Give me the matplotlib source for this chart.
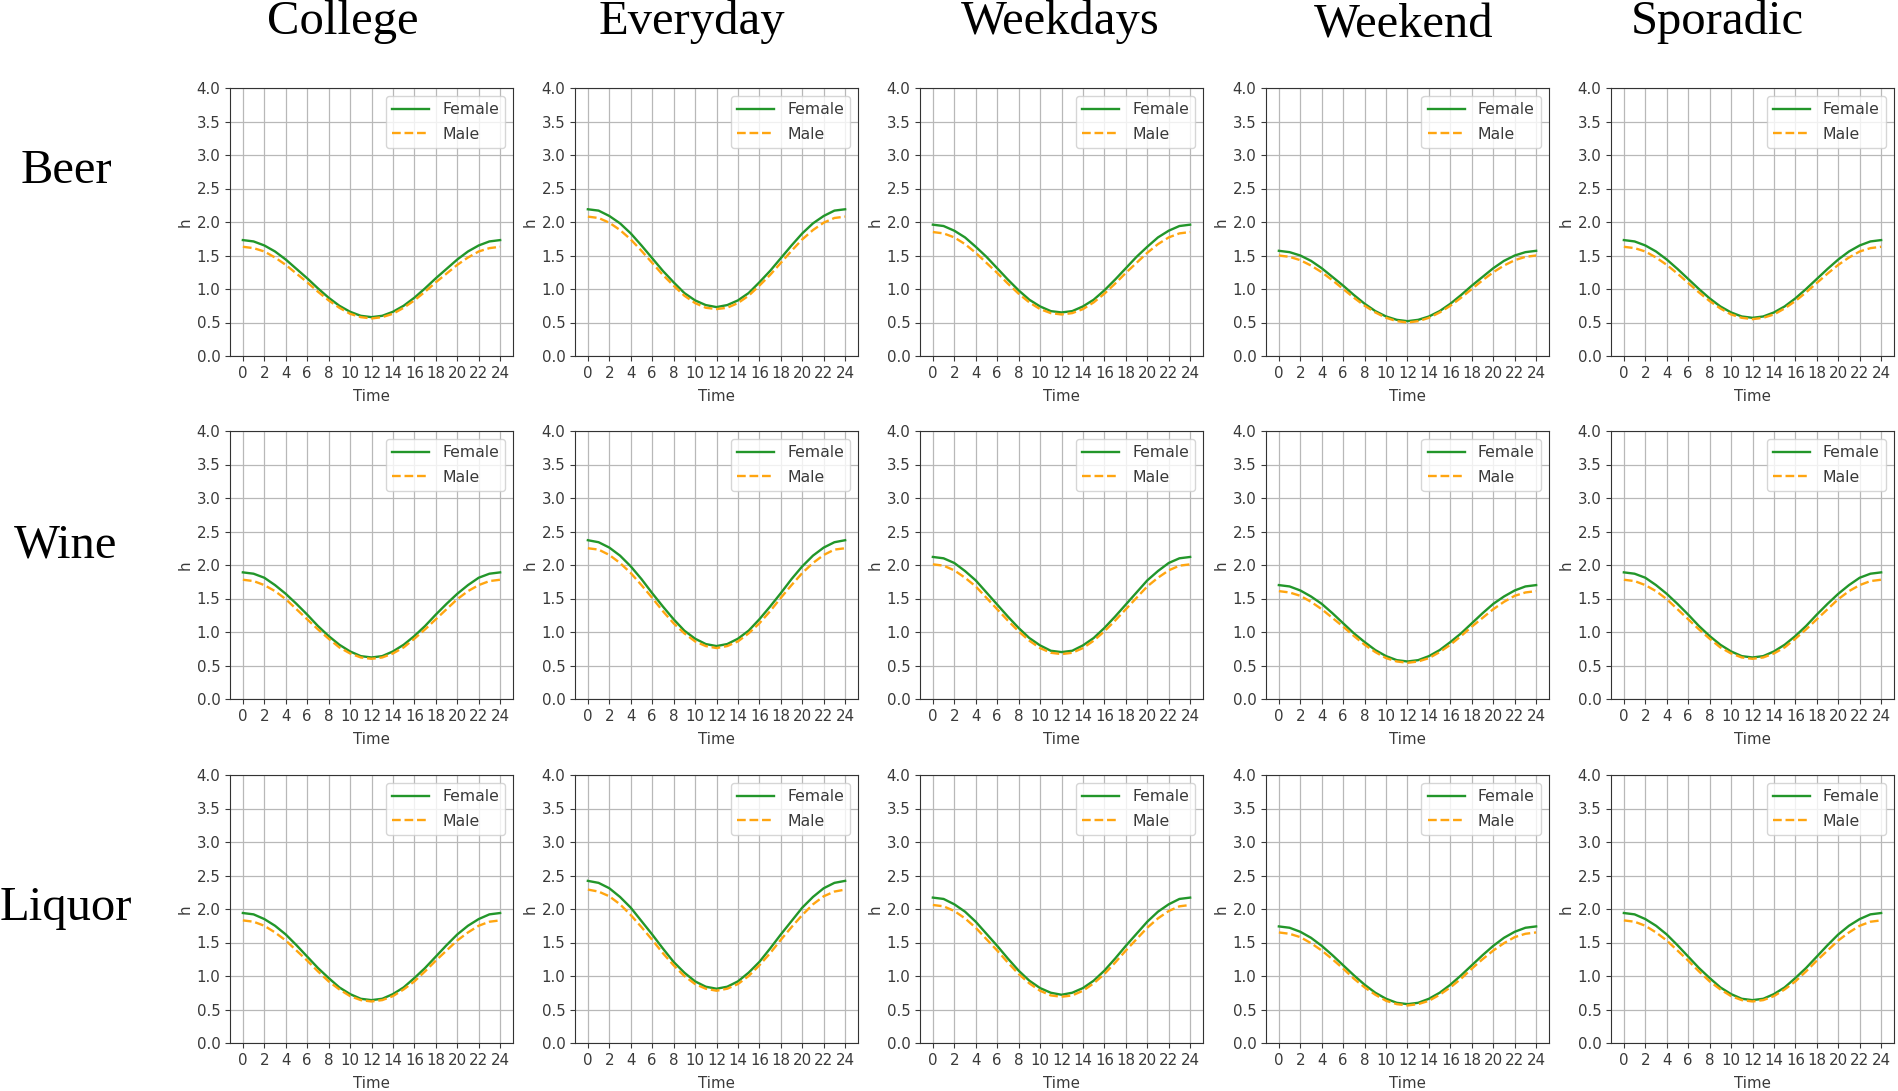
import matplotlib
matplotlib.use('Agg')
import matplotlib.pyplot as plt
import numpy as np

hours = list(range(25))
drinks = ['Beer', 'Wine', 'Liquor']
schedules = ['College', 'Everyday', 'Weekdays', 'Weekend', 'Sporadic']

# values, one per hour (0..24)
beer_college_female = [1.73, 1.71, 1.65, 1.56, 1.44, 1.30, 1.16, 1.01, 0.87, 0.75, 0.66, 0.60, 0.58, 0.60, 0.66, 0.75, 0.87, 1.01, 1.16, 1.30, 1.44, 1.56, 1.65, 1.71, 1.73]
beer_college_male = [1.63, 1.61, 1.56, 1.47, 1.36, 1.23, 1.10, 0.96, 0.83, 0.72, 0.63, 0.58, 0.56, 0.58, 0.63, 0.72, 0.83, 0.96, 1.10, 1.23, 1.36, 1.47, 1.56, 1.61, 1.63]
beer_everyday_female = [2.19, 2.17, 2.09, 1.98, 1.83, 1.65, 1.46, 1.27, 1.10, 0.94, 0.83, 0.76, 0.73, 0.76, 0.83, 0.94, 1.10, 1.27, 1.46, 1.65, 1.83, 1.98, 2.09, 2.17, 2.19]
beer_everyday_male = [2.08, 2.06, 1.99, 1.88, 1.74, 1.57, 1.39, 1.21, 1.05, 0.90, 0.79, 0.72, 0.70, 0.72, 0.79, 0.90, 1.05, 1.21, 1.39, 1.57, 1.74, 1.88, 1.99, 2.06, 2.08]
beer_weekdays_female = [1.96, 1.94, 1.87, 1.77, 1.63, 1.48, 1.31, 1.14, 0.98, 0.84, 0.74, 0.67, 0.65, 0.67, 0.74, 0.84, 0.98, 1.14, 1.31, 1.48, 1.63, 1.77, 1.87, 1.94, 1.96]
beer_weekdays_male = [1.85, 1.83, 1.77, 1.67, 1.54, 1.39, 1.24, 1.08, 0.93, 0.80, 0.70, 0.64, 0.62, 0.64, 0.70, 0.80, 0.93, 1.08, 1.24, 1.39, 1.54, 1.67, 1.77, 1.83, 1.85]
beer_weekend_female = [1.57, 1.55, 1.50, 1.42, 1.31, 1.18, 1.05, 0.91, 0.78, 0.67, 0.59, 0.54, 0.52, 0.54, 0.59, 0.67, 0.78, 0.91, 1.05, 1.18, 1.31, 1.42, 1.50, 1.55, 1.57]
beer_weekend_male = [1.50, 1.48, 1.43, 1.35, 1.25, 1.13, 1.00, 0.87, 0.75, 0.65, 0.57, 0.52, 0.50, 0.52, 0.57, 0.65, 0.75, 0.87, 1.00, 1.13, 1.25, 1.35, 1.43, 1.48, 1.50]
beer_sporadic_female = [1.73, 1.71, 1.65, 1.56, 1.44, 1.30, 1.15, 1.00, 0.86, 0.74, 0.65, 0.59, 0.57, 0.59, 0.65, 0.74, 0.86, 1.00, 1.15, 1.30, 1.44, 1.56, 1.65, 1.71, 1.73]
beer_sporadic_male = [1.63, 1.61, 1.56, 1.47, 1.36, 1.23, 1.09, 0.95, 0.82, 0.71, 0.62, 0.57, 0.55, 0.57, 0.62, 0.71, 0.82, 0.95, 1.09, 1.23, 1.36, 1.47, 1.56, 1.61, 1.63]

wine_college_female = [1.89, 1.87, 1.81, 1.70, 1.57, 1.42, 1.26, 1.09, 0.94, 0.81, 0.71, 0.64, 0.62, 0.64, 0.71, 0.81, 0.94, 1.09, 1.26, 1.42, 1.57, 1.70, 1.81, 1.87, 1.89]
wine_college_male = [1.78, 1.76, 1.70, 1.61, 1.49, 1.34, 1.19, 1.04, 0.90, 0.77, 0.68, 0.62, 0.60, 0.62, 0.68, 0.77, 0.90, 1.04, 1.19, 1.34, 1.49, 1.61, 1.70, 1.76, 1.78]
wine_everyday_female = [2.37, 2.34, 2.26, 2.14, 1.98, 1.79, 1.58, 1.38, 1.19, 1.02, 0.90, 0.82, 0.79, 0.82, 0.90, 1.02, 1.19, 1.38, 1.58, 1.79, 1.98, 2.14, 2.26, 2.34, 2.37]
wine_everyday_male = [2.25, 2.23, 2.15, 2.03, 1.88, 1.70, 1.51, 1.31, 1.13, 0.98, 0.86, 0.79, 0.76, 0.79, 0.86, 0.98, 1.13, 1.31, 1.51, 1.70, 1.88, 2.03, 2.15, 2.23, 2.25]
wine_weekdays_female = [2.12, 2.10, 2.03, 1.91, 1.77, 1.59, 1.41, 1.23, 1.06, 0.91, 0.80, 0.72, 0.70, 0.72, 0.80, 0.91, 1.06, 1.23, 1.41, 1.59, 1.77, 1.91, 2.03, 2.10, 2.12]
wine_weekdays_male = [2.01, 1.99, 1.92, 1.81, 1.68, 1.51, 1.34, 1.17, 1.01, 0.87, 0.76, 0.69, 0.67, 0.69, 0.76, 0.87, 1.01, 1.17, 1.34, 1.51, 1.68, 1.81, 1.92, 1.99, 2.01]
wine_weekend_female = [1.70, 1.68, 1.62, 1.53, 1.42, 1.28, 1.13, 0.98, 0.85, 0.73, 0.64, 0.58, 0.56, 0.58, 0.64, 0.73, 0.85, 0.98, 1.13, 1.28, 1.42, 1.53, 1.62, 1.68, 1.70]
wine_weekend_male = [1.61, 1.59, 1.54, 1.45, 1.34, 1.21, 1.08, 0.94, 0.81, 0.70, 0.61, 0.56, 0.54, 0.56, 0.61, 0.70, 0.81, 0.94, 1.08, 1.21, 1.34, 1.45, 1.54, 1.59, 1.61]
wine_sporadic_female = [1.89, 1.87, 1.81, 1.70, 1.57, 1.42, 1.26, 1.09, 0.94, 0.81, 0.71, 0.64, 0.62, 0.64, 0.71, 0.81, 0.94, 1.09, 1.26, 1.42, 1.57, 1.70, 1.81, 1.87, 1.89]
wine_sporadic_male = [1.78, 1.76, 1.70, 1.61, 1.49, 1.34, 1.19, 1.04, 0.90, 0.77, 0.68, 0.62, 0.60, 0.62, 0.68, 0.77, 0.90, 1.04, 1.19, 1.34, 1.49, 1.61, 1.70, 1.76, 1.78]

liquor_college_female = [1.94, 1.92, 1.85, 1.75, 1.62, 1.46, 1.29, 1.12, 0.97, 0.83, 0.73, 0.66, 0.64, 0.66, 0.73, 0.83, 0.97, 1.12, 1.29, 1.46, 1.62, 1.75, 1.85, 1.92, 1.94]
liquor_college_male = [1.83, 1.81, 1.75, 1.65, 1.53, 1.38, 1.23, 1.07, 0.92, 0.80, 0.70, 0.64, 0.62, 0.64, 0.70, 0.80, 0.92, 1.07, 1.23, 1.38, 1.53, 1.65, 1.75, 1.81, 1.83]
liquor_everyday_female = [2.42, 2.39, 2.31, 2.18, 2.02, 1.82, 1.62, 1.41, 1.21, 1.05, 0.92, 0.84, 0.81, 0.84, 0.92, 1.05, 1.21, 1.41, 1.62, 1.82, 2.02, 2.18, 2.31, 2.39, 2.42]
liquor_everyday_male = [2.29, 2.26, 2.19, 2.07, 1.91, 1.73, 1.54, 1.34, 1.16, 1.00, 0.88, 0.81, 0.78, 0.81, 0.88, 1.00, 1.16, 1.34, 1.54, 1.73, 1.91, 2.07, 2.19, 2.26, 2.29]
liquor_weekdays_female = [2.17, 2.15, 2.07, 1.96, 1.81, 1.63, 1.45, 1.26, 1.08, 0.93, 0.82, 0.75, 0.72, 0.75, 0.82, 0.93, 1.08, 1.26, 1.45, 1.63, 1.81, 1.96, 2.07, 2.15, 2.17]
liquor_weekdays_male = [2.06, 2.04, 1.97, 1.86, 1.72, 1.55, 1.38, 1.20, 1.03, 0.89, 0.78, 0.71, 0.69, 0.71, 0.78, 0.89, 1.03, 1.20, 1.38, 1.55, 1.72, 1.86, 1.97, 2.04, 2.06]
liquor_weekend_female = [1.74, 1.72, 1.66, 1.57, 1.45, 1.31, 1.16, 1.01, 0.87, 0.75, 0.66, 0.60, 0.58, 0.60, 0.66, 0.75, 0.87, 1.01, 1.16, 1.31, 1.45, 1.57, 1.66, 1.72, 1.74]
liquor_weekend_male = [1.65, 1.63, 1.58, 1.49, 1.38, 1.25, 1.11, 0.96, 0.83, 0.72, 0.63, 0.58, 0.56, 0.58, 0.63, 0.72, 0.83, 0.96, 1.11, 1.25, 1.38, 1.49, 1.58, 1.63, 1.65]
liquor_sporadic_female = [1.94, 1.92, 1.85, 1.75, 1.62, 1.46, 1.29, 1.12, 0.97, 0.83, 0.73, 0.66, 0.64, 0.66, 0.73, 0.83, 0.97, 1.12, 1.29, 1.46, 1.62, 1.75, 1.85, 1.92, 1.94]
liquor_sporadic_male = [1.83, 1.81, 1.75, 1.65, 1.53, 1.38, 1.23, 1.07, 0.92, 0.80, 0.70, 0.64, 0.62, 0.64, 0.70, 0.80, 0.92, 1.07, 1.23, 1.38, 1.53, 1.65, 1.75, 1.81, 1.83]

female = [
    [beer_college_female, beer_everyday_female, beer_weekdays_female, beer_weekend_female, beer_sporadic_female],
    [wine_college_female, wine_everyday_female, wine_weekdays_female, wine_weekend_female, wine_sporadic_female],
    [liquor_college_female, liquor_everyday_female, liquor_weekdays_female, liquor_weekend_female, liquor_sporadic_female],
]
male = [
    [beer_college_male, beer_everyday_male, beer_weekdays_male, beer_weekend_male, beer_sporadic_male],
    [wine_college_male, wine_everyday_male, wine_weekdays_male, wine_weekend_male, wine_sporadic_male],
    [liquor_college_male, liquor_everyday_male, liquor_weekdays_male, liquor_weekend_male, liquor_sporadic_male],
]

W, H = 1898, 1091
fig = plt.figure(figsize=(W / 100, H / 100), dpi=100)

col_left = [230, 575, 920, 1266, 1611]
row_bottom = [356, 699, 1043]
ax_w, ax_h = 283, 268
txt = '#3a3a3a'

for r in range(3):
    for c in range(5):
        ax = fig.add_axes([col_left[c] / W, 1 - row_bottom[r] / H, ax_w / W, ax_h / H])
        ax.plot(hours, female[r][c], color='#22962a', lw=1.7, label='Female')
        ax.plot(hours, male[r][c], color='#ffa510', lw=1.7, ls='--', label='Male')
        ax.set_ylim(0, 4)
        ax.set_xticks(np.arange(0, 25, 2))
        ax.set_yticks(np.arange(0, 4.01, 0.5))
        ax.grid(True, color='#b8b8b8', lw=0.9)
        ax.tick_params(labelsize=10.8, colors=txt)
        ax.set_xlabel('Time', fontsize=10.8, color=txt, labelpad=6)
        ax.set_ylabel('h', fontsize=10.8, color=txt, labelpad=3)
        for s in ax.spines.values():
            s.set_color('#333333')
        leg = ax.legend(loc='upper right', fontsize=11.3, handlelength=2.4, labelspacing=0.6)
        for t in leg.get_texts():
            t.set_color(txt)

# column and row headings
title_x = [343, 692, 1060, 1404, 1717]
title_y = [34, 34, 34, 38, 34]
for c in range(5):
    fig.text(title_x[c] / W, 1 - title_y[c] / H, schedules[c], family='Liberation Serif',
             fontsize=35, ha='center', va='baseline')

row_y = [183, 558, 920]
for r in range(3):
    fig.text(66 / W, 1 - row_y[r] / H, drinks[r], family='Liberation Serif',
             fontsize=35, ha='center', va='baseline')

plt.savefig('out.png', dpi=100)
